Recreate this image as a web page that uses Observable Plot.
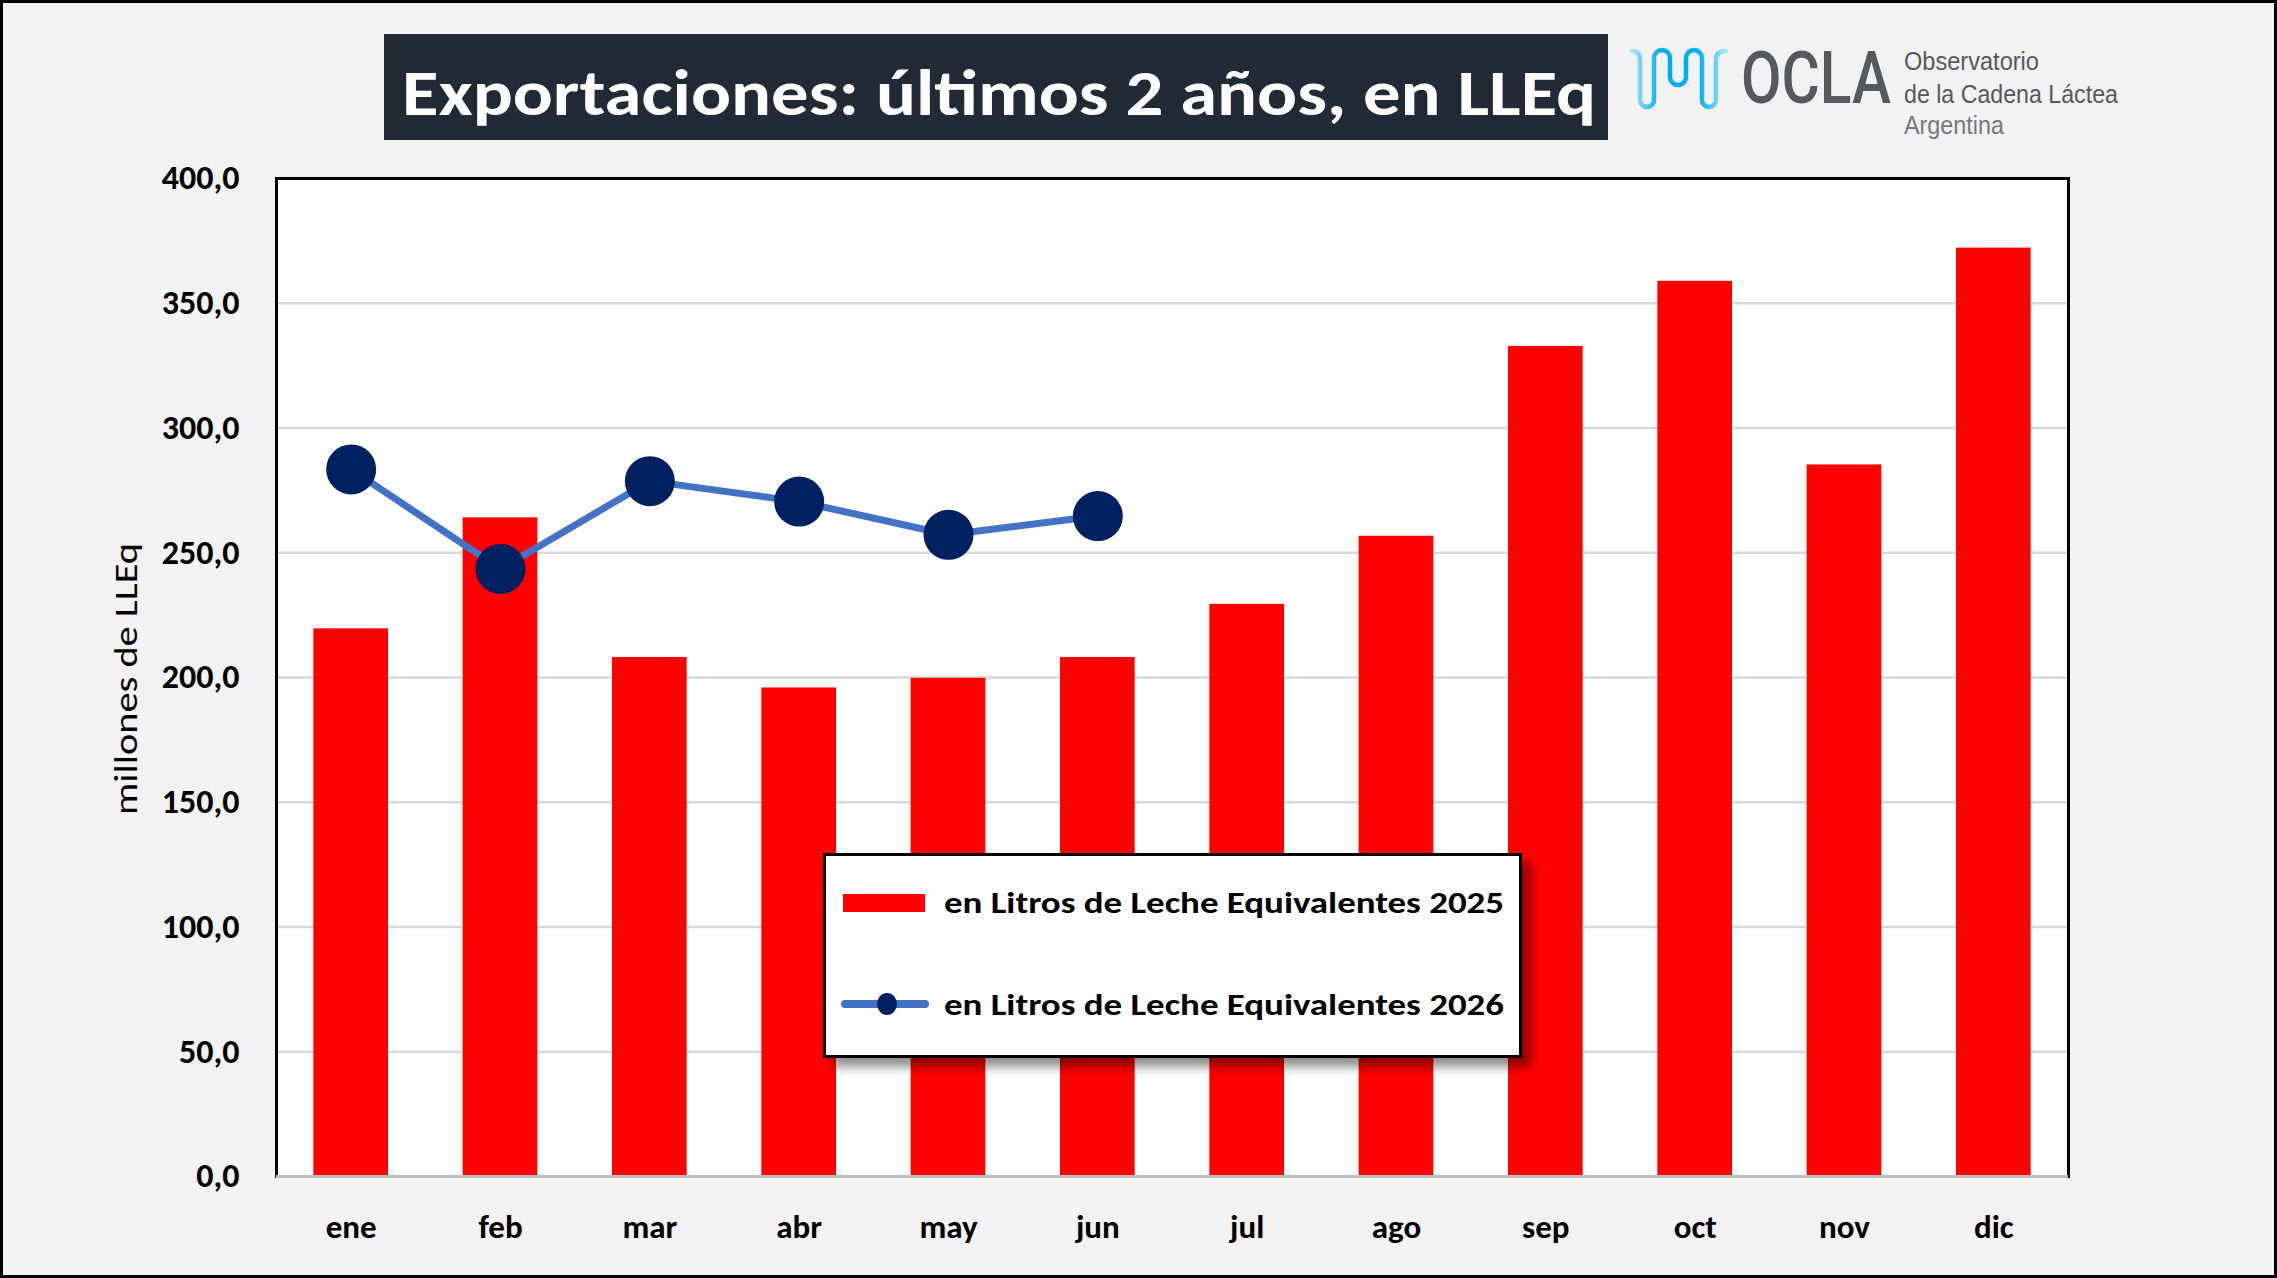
<!DOCTYPE html>
<html>
<head>
<meta charset="utf-8">
<script src="https://cdn.jsdelivr.net/npm/d3@7"></script>
<script src="https://cdn.jsdelivr.net/npm/@observablehq/plot@0.6"></script>
<style>
  html, body { margin: 0; padding: 0; background: #f2f2f2; }
  #page { position: relative; width: 2277px; height: 1278px; background: #f2f2f2; overflow: hidden;
          font-family: Carlito, Lato, sans-serif; }
  #header { position: absolute; left: 0; top: 0; }
  #chart { position: absolute; left: 0; top: 150px; }
  #legend { position: absolute; left: 823px; top: 853px; width: 699px; height: 205px; box-sizing: border-box;
            background: #fff; border: 3px solid #000; box-shadow: 9px 9px 10px rgba(0,0,0,0.45); }
  #legend svg { position: absolute; left: -3px; top: -3px; }
  #border { position: absolute; left: 0; top: 0; width: 2277px; height: 1278px; box-sizing: border-box;
            border: 3px solid #000; pointer-events: none; }
</style>
</head>
<body>
<div id="page">
  <svg id="header" width="2277" height="150"></svg>
  <div id="chart"></div>
  <div id="legend"></div>
  <div id="border"></div>
</div>
<script>
// ---- data ----
const months = ["ene", "feb", "mar", "abr", "may", "jun", "jul", "ago", "sep", "oct", "nov", "dic"];
const values2025 = [219.5, 264.0, 208.0, 195.8, 199.7, 208.0, 229.3, 256.6, 332.7, 358.8, 285.2, 372.1];
const months2026 = ["ene", "feb", "mar", "abr", "may", "jun"];
const values2026 = [283.4, 243.5, 278.7, 270.5, 257.2, 264.7];
const yTicks = [0, 50, 100, 150, 200, 250, 300, 350, 400];
const gridTicks = [50, 100, 150, 200, 250, 300, 350];
const titleText = "Exportaciones: últimos 2 años, en LLEq";
const yLabel = "millones de LLEq";
const legendLabels = ["en Litros de Leche Equivalentes 2025", "en Litros de Leche Equivalentes 2026"];

const bars = months.map((m, i) => ({month: m, value: values2025[i]}));
const line26 = months2026.map((m, i) => ({month: m, value: values2026[i]}));

const FONT = "Carlito, Lato, sans-serif";

// ---- chart ----
const chart = Plot.plot({
  width: 2277,
  height: 1128,
  marginLeft: 276,
  marginRight: 209,
  marginTop: 28,
  marginBottom: 102,
  style: {background: "transparent", fontFamily: FONT, color: "#000", overflow: "visible"},
  x: {domain: months, paddingInner: 0.5, paddingOuter: 0.25, round: false, label: null},
  y: {domain: [0, 400], label: null},
  marks: [
    Plot.frame({fill: "#ffffff"}),
    Plot.ruleY(gridTicks, {stroke: "#d9d9d9", strokeWidth: 2.5}),
    Plot.barY(bars, {x: "month", y: "value", fill: "#ff0000"}),
    Plot.frame({stroke: "#000", strokeWidth: 3}),
    Plot.ruleY([0], {stroke: "#bfbfbf", strokeWidth: 3}),
    Plot.line(line26, {x: "month", y: "value", stroke: "#4472c4", strokeWidth: 7}),
    Plot.dot(line26, {x: "month", y: "value", r: 25, fill: "#002060", stroke: "none"}),
    Plot.axisY({ticks: yTicks, tickFormat: d => d.toFixed(1).replace(".", ","), tickSize: 0, tickPadding: 37,
                fontSize: 34, fontWeight: 600, label: null}),
    Plot.axisX({tickSize: 0, tickPadding: 38, fontSize: 33, fontWeight: 700, label: null})
  ]
});
document.getElementById("chart").appendChild(chart);

// y-axis title
d3.select(chart).append("text")
  .attr("transform", "translate(126," + (679 - 150) + ") rotate(-90)")
  .attr("text-anchor", "middle")
  .attr("dominant-baseline", "central")
  .attr("font-family", FONT)
  .attr("font-size", 33)
  .attr("font-weight", 500)
  .attr("textLength", 272)
  .attr("lengthAdjust", "spacingAndGlyphs")
  .attr("fill", "#000")
  .text(yLabel);

// ---- header: title + logo ----
const hdr = d3.select("#header");
hdr.append("rect").attr("x", 384).attr("y", 34).attr("width", 1224).attr("height", 106).attr("fill", "#222a35");
hdr.append("text")
  .attr("x", 402).attr("y", 115)
  .attr("font-family", FONT).attr("font-size", 65).attr("font-weight", 700)
  .attr("fill", "#ffffff")
  .attr("textLength", 1194).attr("lengthAdjust", "spacingAndGlyphs")
  .text(titleText);

const defs = hdr.append("defs");
const grad = defs.append("linearGradient").attr("id", "wave").attr("x1", "0").attr("x2", "1").attr("y1", "0").attr("y2", "0");
grad.append("stop").attr("offset", "0%").attr("stop-color", "#a8e6fb");
grad.append("stop").attr("offset", "30%").attr("stop-color", "#00aeef");
grad.append("stop").attr("offset", "70%").attr("stop-color", "#00aeef");
grad.append("stop").attr("offset", "100%").attr("stop-color", "#a8e6fb");
hdr.append("path")
  .attr("d", "M1632,51 Q1640,51 1640,60 L1640,100 A7,7 0 0 0 1654,100 L1654,58 A8,8 0 0 1 1670,58 L1670,77 A8,8 0 0 0 1686,77 L1686,58 A8,8 0 0 1 1702,58 L1702,100 A7,7 0 0 0 1716,100 L1716,60 Q1716,51 1726,51")
  .attr("fill", "none").attr("stroke", "url(#wave)").attr("stroke-width", 4.5).attr("stroke-linecap", "round");

const logoFont = "Roboto, 'Open Sans', sans-serif";
const logoSmall = "'Liberation Sans Narrow', 'Liberation Sans', sans-serif";
// OCLA: squeezed horizontally with a transform so its real box is ~150px wide
const ocla = hdr.append("text").attr("x", 0).attr("y", 0).attr("font-family", logoFont).attr("font-size", 73).attr("font-weight", 500)
  .attr("fill", "#58595b").text("OCLA");
const oclaW = ocla.node().getComputedTextLength() || 187;
ocla.attr("transform", "translate(1741,103) scale(" + (150 / oclaW) + ",1)");

function fitText(sel, target) {
  const w = sel.node().getComputedTextLength() || target;
  const x = +sel.attr("x"), y = +sel.attr("y");
  sel.attr("x", 0).attr("y", 0).attr("transform", "translate(" + x + "," + y + ") scale(" + (target / w) + ",1)");
}
fitText(hdr.append("text").attr("x", 1904).attr("y", 70).attr("font-family", logoSmall).attr("font-size", 26)
  .attr("fill", "#58595b").text("Observatorio"), 135);
fitText(hdr.append("text").attr("x", 1904).attr("y", 103).attr("font-family", logoSmall).attr("font-size", 26)
  .attr("fill", "#58595b").text("de la Cadena Láctea"), 214);
fitText(hdr.append("text").attr("x", 1904).attr("y", 134).attr("font-family", logoSmall).attr("font-size", 26)
  .attr("fill", "#77787b").text("Argentina"), 100);

// ---- legend ----
const lg = d3.select("#legend").append("svg").attr("width", 699).attr("height", 205);
lg.append("rect").attr("x", 20).attr("y", 41).attr("width", 82).attr("height", 18).attr("fill", "#ff0000");
lg.append("line").attr("x1", 22).attr("x2", 102).attr("y1", 151).attr("y2", 151)
  .attr("stroke", "#4472c4").attr("stroke-width", 8).attr("stroke-linecap", "round");
lg.append("ellipse").attr("cx", 64).attr("cy", 151).attr("rx", 10).attr("ry", 11).attr("fill", "#002060");
legendLabels.forEach((t, i) => {
  lg.append("text").attr("x", 121).attr("y", i === 0 ? 49 : 151)
    .attr("dominant-baseline", "central")
    .attr("font-family", FONT).attr("font-size", 30).attr("font-weight", 600)
    .attr("fill", "#000")
    .attr("textLength", 560).attr("lengthAdjust", "spacingAndGlyphs")
    .text(t);
});
</script>
</body>
</html>
